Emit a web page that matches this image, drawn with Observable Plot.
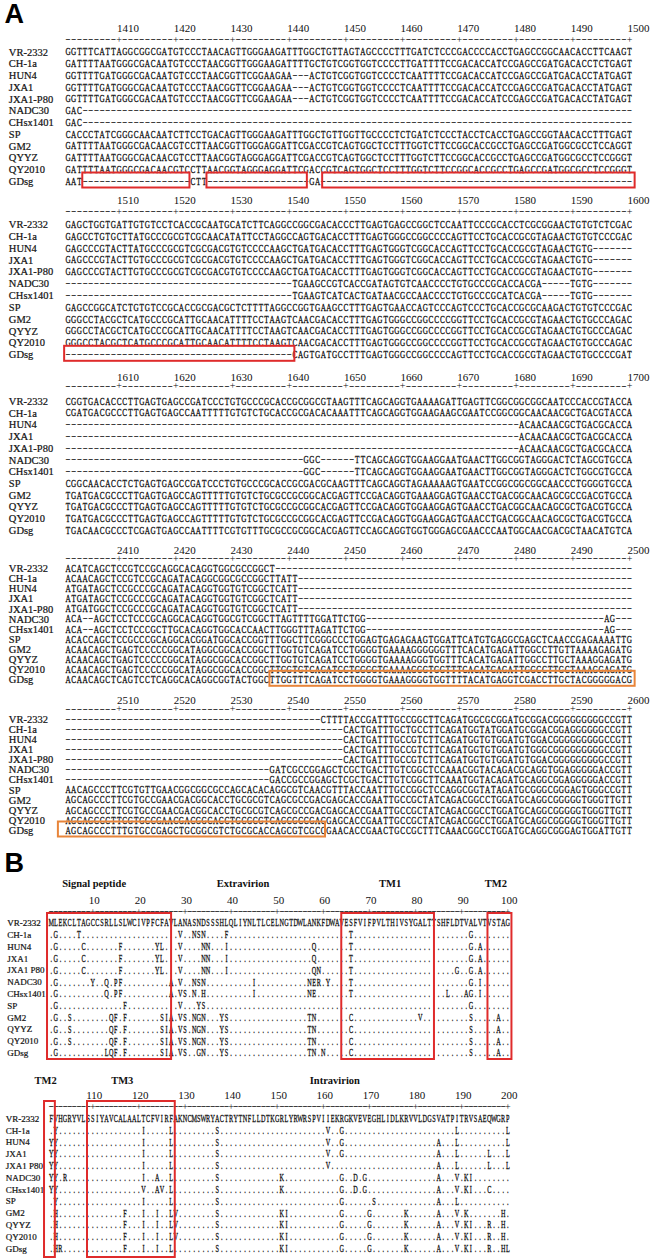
<!DOCTYPE html>
<html>
<head>
<meta charset="utf-8">
<script src="https://cdn.jsdelivr.net/npm/d3@7"></script>
<script src="https://cdn.jsdelivr.net/npm/@observablehq/plot@0.6"></script>
<style>
  html, body { margin: 0; padding: 0; background: #fff; }
  #fig { position: relative; width: 653px; height: 1259px; overflow: hidden; background: #fff; }
  #fig svg { position: absolute; left: 0; display: block; max-width: none; }
</style>
</head>
<body>
<div id="fig"></div>
<script>
// ---------------- DATA ----------------
const ntStrains = ["VR-2332","CH-1a","HUN4","JXA1","JXA1-P80","NADC30","CHsx1401","SP","GM2","QYYZ","QY2010","GDsg"];
const aaStrains = ["VR-2332","CH-1a","HUN4","JXA1","JXA1 P80","NADC30","CHsx1401","SP","GM2","QYYZ","QY2010","GDsg"];

// nucleotides 1401-1500 (groups of ten, spaces only for reading)
const nt1401 = [
"GGTTTCATTA GGCGGCGATG TCCCTAACAG TTGGGAAGAT TTGGCTGTTA GTAGCCCCTT TGATCTCCCG ACCCCACCTG AGCCGGCAAC ACCTTCAAGT",
"GATTTTAATG GGCGACAATG TCCCTAACGG TTGGGAAGAT TTTGCTGTCG GTGGTCCCCT TGATTTTCCG ACACCATCCG AGCCGATGAC ACCTCTGAGT",
"GGTTTTGATG GGCGACAATG TCCCTAACGG TTCGGAAGAA ---ACTGTCG GTGGTCCCCT CAATTTTCCG ACACCATCCG AGCCGATGAC ACCTATGAGT",
"GGTTTTGATG GGCGACAATG TCCCTAACGG TTCGGAAGAA ---ACTGTCG GTGGTCCCCT CAATTTTCCG ACACCATCCG AGCCGATGAC ACCTATGAGT",
"GGTTTTGATG GGCGACAATG TCCCTAACGG TTCGGAAGAA ---ACTGTCG GTGGTCCCCT CAATTTTCCG ACACCATCCG AGCCGATGAC ACCTATGAGT",
"GAC------- ---------- ---------- ---------- ---------- ---------- ---------- ---------- ---------- ----------",
"GAC------- ---------- ---------- ---------- ---------- ---------- ---------- ---------- ---------- ----------",
"CACCCTATCG GGCAACAATC TTCCTGACAG TTGGGAAGAT TTGGCTGTTG GTTGCCCCTC TGATCTCCCT ACCTCACCTG AGCCGGTAAC ACCTTTGAGT",
"GATTTTAATG GGCGACAACG TCCTTAACGG TTGGGAGGAT TCGACCGTCA GTGGCTCCTT TGGTCTTCCG GCACCGCCTG AGCCGATGGC GCCTCCAGGT",
"GATTTTAATG GGCGACAACG TCCTTAACGG TAGGGAGGAT TCGACCGTCA GTGGCTCCTT TGGTCTTCCG GCACCGCCTG AGCCGATGGC GCCTCCGGGT",
"GATTTTAATG GGCGACAACG TCCTTAACGG TAGGGAGGAT TCGACCGTCA GTGGCTCCTT TGGTCTTCCG GCACCGCCTG AGCCGATGGC GCCTCCGGGT",
"AAT------- ---------- --CTT----- ---------- ---GA----- ---------- ---------- ---------- ---------- ----------"
];
// nucleotides 1501-1600
const nt1501 = [
"GAGCTGGTGA TTGTGTCCTC ACCGCAATGC ATCTTCAGGC CGGCGACACC CTTGAGTGAG CCGGCTCCAA TTCCCGCACC TCGCGGAACT GTGTCTCGAC",
"GAGCCTGTGC TTATGCCCGC GTCGCAACAT ATTCCTAGGC CAGTGACACC TTTGAGTGGG CCGGCCCCAG TTCCTGCACC GCGTAGAACT GTGTCCCGAC",
"GAGCCCGTAC TTATGCCCGC GTCGCGACGT GTCCCCAAGC TGATGACACC TTTGAGTGGG TCGGCACCAG TTCCTGCACC GCGTAGAACT GTG-------",
"GAGCCCGTAC TTGTGCCCGC GTCGCGACGT GTCCCCAAGC TGATGACACC TTTGAGTGGG TCGGCACCAG TTCCTGCACC GCGTAGAACT GTG-------",
"GAGCCCGTAC TTGTGCCCGC GTCGCGACGT GTCCCCAAGC TGATGACACC TTTGAGTGGG TCGGCACCAG TTCCTGCACC GCGTAGAACT GTG-------",
"---------- ---------- ---------- ---------- TGAAGCCGTC ACCGATAGTG TCAACCCCTG TGCCCGCACC ACGA-----T GTG-------",
"---------- ---------- ---------- ---------- TGAAGTCATC ACTGATAACG CCAACCCCTG TGCCCGCATC ACGA-----T GTG-------",
"GAGCCGGCAT CTGTGTCCGC ACCGCGACGC TCTTTTAGGC CGGTGAAGCC TTTGAGTGAA CCAGTCCCAG TCCCTGCACC GCGCAAGACT GTGTCCCGAC",
"GGGCCTACGC TCATGCCCGC ATTGCAACAT TTTCCTAAGT CAACGACACC TTTGAGTGGG CCGGCCCCGG TTCCTGCACC GCGTAGAACT GTGCCCAGAC",
"GGGCCTACGC TCATGCCCGC ATTGCAACAT TTTCCTAAGT CAACGACACC TTTGAGTGGG CCGGCCCCGG TTCCTGCACC GCGTAGAACT GTGCCCAGAC",
"GGGCCTACGC TCATGCCCGC ATTGCAACAT TTTCCTAAGT CAACGACACC TTTGAGTGGG CCGGCCCCGG TTCCTGCACC GCGTAGAACT GTGCCCAGAC",
"---------- ---------- ---------- ---------- CAGTGATGCC TTTGAGTGGG CCGGCCCCAG TTCCTGCACC GCGTAGAACT GTGCCCCGAT"
];
// nucleotides 1601-1700
const nt1601 = [
"CGGTGACACC CTTGAGTGAG CCGATCCCTG TGCCCGCACC GCGGCGTAAG TTTCAGCAGG TGAAAAGATT GAGTTCGGCG GCGGCAATCC CACCGTACCA",
"CGATGACGCC CTTGAGTGAG CCAATTTTTG TGTCTGCACC GCGACACAAA TTTCAGCAGG TGGAAGAAGC GAATCCGGCG GCAACAACGC TGACGTACCA",
"---------- ---------- ---------- ---------- ---------- ---------- ---------- ---------- ACAACAACGC TGACGCACCA",
"---------- ---------- ---------- ---------- ---------- ---------- ---------- ---------- ACAACAACGC TGACGCACCA",
"---------- ---------- ---------- ---------- ---------- ---------- ---------- ---------- ACAACAACGC TGACGCACCA",
"---------- ---------- ---------- ---------- --GGC----- -TTCAGCAGG TGGAAGGAAT GAACTTGGCG GTAGGGACTC TAGCGTGCCA",
"---------- ---------- ---------- ---------- --GGC----- -TTCAGCAGG TGGAAGGAAT GAACTTGGCG GTAGGGACTC TGGCGTGCCA",
"CGGCAACACC TCTGAGTGAG CCGATCCCTG TGCCCGCACC GCGACGCAAG TTTCAGCAGG TAGAAAAAGT GAATCCGGCG GCGGCAACCC TGGGGTGCCA",
"TGATGACGCC CTTGAGTGAG CCAGTTTTTG TGTCTGCGCC GCGGCACGAG TTCCGACAGG TGAAAGGAGT GAACCTGACG GCAACAGCGC CGACGTGCCA",
"TGATGACGCC CTTGAGTGAG CCAGTTTTTG TGTCTGCGCC GCGGCACGAG TTCCGACAGG TGGAAGGAGT GAACCTGACG GCAACAGCGC TGACGTGCCA",
"TGATGACGCC CTTGAGTGAG CCAGTTTTTG TGTCTGCGCC GCGGCACGAG TTCCGACAGG TGGAAGGAGT GAACCTGACG GCAACAGCGC TGACGTGCCA",
"TGACAACGCC CTCGAGTGAG CCAATTTTCG TGTTTGCGCC GCGGCACGAG TTCCAGCAGG TGGTGGGAGC GAACCCAATG GCAACGACGC TAACATGTCA"
];
// nucleotides 2401-2500
const nt2401 = [
"ACATCAGCTC CGTCCGCAGG CACAGGTGGC GCCGGCT--- ---------- ---------- ---------- ---------- ---------- ----------",
"ACAACAGCTC CGTCCGCAGA TACAGGCGGC GCCGGCTTAT T--------- ---------- ---------- ---------- ---------- ----------",
"ATGATAGCTC CGCCCGCAGA TACAGGTGGT GTCGGCTCAT T--------- ---------- ---------- ---------- ---------- ----------",
"ATGATAGCTC CGCCCGCAGA TACAGGTGGT GTCGGCTCAT T--------- ---------- ---------- ---------- ---------- ----------",
"ATGATGGCTC CGCCCGCAGA TACAGGTGGT GTCGGCTCAT T--------- ---------- ---------- ---------- ---------- ----------",
"ACA--AGCTC CTCCCGCAGG CACAGGTGGC GTCGGCTTAG TTTTGGATTC TGG------- ---------- ---------- ---------- -----AG---",
"ACA--AGCTC CTCCCGCTTG CACAGGTGGC ACCAACTTGG GTTTAGATTC TGG------- ---------- ---------- ---------- -----AG---",
"ACACCAGCTC CGCCCGCAGG CACGGATGGC ACCGGTTTGG CTTCGGGCCC TGGAGTGAGA GAAGTGGATT CATGTGAGGC GAGCTCAACC GAGAAAATTG",
"ACAACAGCTG AGTCCCCCGG CATAGGCGGC ACCGGCTTGG TGTCAGATCC TGGGGTGAAA AGGGGGGTTT CACATGAGAT TGGCCTTGTT AAAAGAGATG",
"ACAACAGCTG AGTCCCCCGG CATAGGCGGC ACCGGCTTGG TGTCAGATCC TGGGGTGAAA AGGGTGGTTT CACATGAGAT TGGCCTTGCT AAAGGAGATG",
"ACAACAGCTG AGTCCCCCGG CATAGGCGGC ACCGGCTTGG TGTCAGATCC TGGGGTGAAA AGGGTGGTTT CACATGAGAT TGGCCTTGCT AAAGGAGATG",
"ACAACAGCTC AGTCCTCAGG CACAGGCGGT ACTGGCTTGG TTTCAGATCC TGGGGTGAAA GGGGTGGTTT TACATGAGGT CGACCTTGCT ACGGGGGACG"
];
// nucleotides 2501-2600
const nt2501 = [
"---------- ---------- ---------- ---------- -----CTTTT ACCGATTTGC CGGCTTCAGA TGGCGCGGAT GCGGACGGGG GGGGGCCGTT",
"---------- ---------- ---------- ---------- ---------C ACTGATTTGC TGCCTTCAGA TGGTATGGAT GCGGACGGAG GGGGGCCGTT",
"---------- ---------- ---------- ---------- ---------C ACTGATTTGC CGTCTTCAGA TGGTGTGGAT GTGGACGGGG GGGGGCCGTT",
"---------- ---------- ---------- ---------- ---------C ACTGATTTGC CGTCTTCAGA TGGTGTGGAT GTGGGCGGGG GGGGGCCGTT",
"---------- ---------- ---------- ---------- ---------C ACTGATTTGC CGTCTTCAGA TGGTGTGGAT GTGGACGGGG GGGGGCCGTT",
"---------- ---------- ---------- ------GATC GCCGGAGCTC GCTGACTTGT CGGCTCCAAA CGGTACAGAC GCAGGTGGAG GGGGACCGTT",
"---------- ---------- ---------- ------GACC GCCGGAGCTC GCTGACTTGT CGGCTTCAAA TGGTACAGAT GCAGGCGGAG GGGGACCGTT",
"AACAGCCCTT CGTGTTGAAC GGCGGCGCCA GCACACAGGC GTCAACGTTT ACCAATTTGC CGGCTCCAGG CGGTATAGAT GCGGGCGGGA GTGGGCCGTT",
"AGCAGCCCTT CGTGCCGAAC GACGGCACCT GCGCGTCAGC GCCGACGAGC ACCGAATTGC CGCTATCAGA CGGCCTGGAT GCAGGCGGGG GTGGGTTGTT",
"AGCAGCCCTT CGTGCCGAAC GACGGCACCT GCGCGTCAGC GCCGACGAGC ACCGAATTGC CGCTATCAGA CGGCCTGGAT GCAGGCGGGG GTGGGTTGTT",
"AGCAGCCCTT CGTGCCGAAC GACGGCACCT GCGCGTCAGC GCCGACGAGC ACCGAATTGC CGCTATCAGA CGGCCTGGAT GCAGGCGGGG GTGGGTTGTT",
"AGCAGCCCTT TGTGCCGAGC TGCGGCGTCT GCGCACCAGC GTCGCCGAAC ACCGAACTGC CGCTTTCAAA CGGCCTGGAT GCAGGCGGGA GTGGATTGTT"
];

// boxed stretches of GDsg (sequence units, edges)
const ntBoxes = [
  {block: 1400, strain: "GDsg", from: 3.6,  to: 22.5,  kind: "deletion"},
  {block: 1400, strain: "GDsg", from: 25.5, to: 43.2,  kind: "deletion"},
  {block: 1400, strain: "GDsg", from: 45.9, to: 101.0, kind: "deletion"},
  {block: 1500, strain: "GDsg", from: 0.4,  to: 41.0,  kind: "deletion"},
  {block: 2400, strain: "GDsg", from: 36.6, to: 101.0, kind: "recombinant"},
  {block: 2500, strain: "GDsg", from: -0.7, to: 46.4,  kind: "recombinant"}
];

// GP5 amino acids: VR-2332 reference (1-200) and substitutions in the others
const aaVR2332 = "MLEKCLTAGCCSRLLSLWCIVPFCFAVLANASNDSSSHLQLIYNLTLCELNGTDWLANKFDWAVESFVIFPVLTHIVSYGALTTSHFLDTVALVTVSTAG" +
                 "FVHGRYVLSSIYAVCALAALTCFVIRFAKNCMSWRYACTRYTNFLLDTKGRLYRWRSPVIIEKRGKVEVEGHLIDLKRVVLDGSVATPITRVSAEQWGRP";
const aaSubstitutions = [
  "",
  "2G 7T 29V 32N 33S 34N 39F 66T 92G 102Y 121I 127L 137S 161V 164G 189L 200L",
  "2G 8C 16F 24Y 25L 29V 34N 35N 39I 58Q 66T 92G 94A 101Y 102Y 121I 127L 137S 161V 164G 185A 189L 200L",
  "2G 8C 16F 24Y 25L 29V 34N 35N 39I 58Q 66T 92G 94A 101Y 102Y 121I 127L 137S 161V 164G 185A 189L 196L 200L",
  "2G 8C 16F 24Y 25L 29V 34N 35N 39I 58Q 59N 66T 89G 92G 94A 101Y 102Y 121I 127L 137S 161V 185A 189L 196L 200L",
  "2G 10Y 13Q 15P 16F 27A 29V 32N 33S 34N 45I 57N 58E 59R 61Y 66T 92G 94I 101Y 102Y 104R 121I 124A 127L 137S 151K 164G 167D 169G 185A 189V 191K 192I",
  "2G 13Q 15P 16F 27A 29V 30S 32N 34H 45I 57N 58E 66T 87L 91A 92G 94I 101Y 102Y 121V 124A 125V 127L 137S 151K 164G 167D 169G 185A 189V 191K 192I 196C",
  "2G 17F 29V 33Y 34S 92G 102Y 121I 127L 137S 164G 171S 185A 189L",
  "2G 5S 14Q 15F 17F 25S 26I 27A 29V 30S 32N 33G 34N 38Y 39S 57T 58N 66C 81V 92S 98A 102H 117F 121I 124I 127L 128V 137S 151K 152I 164G 170G 178K 185A 189V 191K 199H",
  "2G 5S 14Q 15F 17F 25S 26I 27A 29V 30S 32N 33G 34N 38Y 39S 57T 58N 66C 92S 98A 102H 117F 121I 124I 127L 128V 137S 151K 152I 164G 170G 178K 185A 189V 191K 192I 196R 199H",
  "2G 5S 14Q 15F 17F 25S 26I 27A 29V 30S 32N 33G 34N 38Y 39S 57T 58N 66C 92S 98A 102H 117F 121I 124I 127L 128V 137S 151K 152I 164G 170G 178K 185A 189V 191K 192I 196R 199H",
  "2G 13L 14Q 15F 17F 25S 26I 27A 29V 30S 33G 34N 38Y 39S 57T 58N 60N 66C 92S 98A 102H 103R 117F 121I 124I 127L 137S 151K 152I 164G 170G 178K 185A 189V 191K 192I 196R 199H 200L"
];
const gp5Regions1 = [
  {name: "Signal peptide", at: 10.3}, {name: "Extravirion", at: 42.6},
  {name: "TM1", at: 74.5}, {name: "TM2", at: 97.4}
];
const gp5Regions2 = [
  {name: "TM2", at: 99.8}, {name: "TM3", at: 116.4}, {name: "Intravirion", at: 162.5}
];
const gp5Boxes = [
  {block: 0, from: 0.2, to: 27.1}, {block: 0, from: 64.0, to: 84.1}, {block: 0, from: 95.7, to: 100.9},
  {block: 100, from: 99.55, to: 101.9}, {block: 100, from: 108.87, to: 127.9}
];

// ---------------- DRAWING ----------------
const SERIF = "'Liberation Serif', 'Times New Roman', serif";
const SANS = "'Liberation Sans', Arial, sans-serif";
const INK = "#111";
const RED = "#df2b2b";
const ORANGE = "#e8853a";

function squeeze(svg, size, sx) {
  svg.querySelectorAll("g").forEach(g => {
    const fs = g.getAttribute("font-size");
    if (!fs || Math.abs(parseFloat(fs) - size) > 1e-6) return;
    g.querySelectorAll("text").forEach(t => {
      let tr = t.getAttribute("transform") || "";
      const x = t.getAttribute("x");
      if (x !== null && !/em$/.test(x)) {
        const y = t.getAttribute("y");
        const yNum = y !== null && !/em$/.test(y);
        tr = `translate(${x},${yNum ? y : 0}) ` + tr;
        t.removeAttribute("x");
        if (yNum) t.removeAttribute("y");
      }
      t.setAttribute("transform", `${tr} scale(${sx},1)`);
    });
  });
}

function aaRows(lo) {
  return aaStrains.map((s, k) => {
    if (k === 0) return aaVR2332.slice(lo, lo + 100);
    const arr = aaVR2332.slice(lo, lo + 100).split("").map(() => ".");
    aaSubstitutions[k].split(" ").filter(Boolean).forEach(tok => {
      const p = +tok.slice(0, -1), a = tok.slice(-1);
      if (p > lo && p <= lo + 100) arr[p - lo - 1] = a;
    });
    return arr.join("");
  });
}

function drawBlock(o) {
  const step = (o.r1 - o.r0) / 11;
  const row = py => (py - o.r0) / step;
  const all = [];
  o.rows.forEach((s, r) => {
    const str = s.replace(/ /g, "");
    str.split("").forEach((c, i) => all.push({r, i: i + 1, c}));
  });
  const letters = all.filter(d => d.c !== "-");
  const gaps = all.filter(d => d.c === "-");
  const pos = d3.range(1, 101);
  const tens = pos.filter(i => i % 10 === 0);
  const minor = pos.filter(i => i % 10 !== 0);

  const marks = [
    Plot.text(o.labels, {frameAnchor: "left", y: (d, i) => i, text: d => d, textAnchor: "start",
      dx: o.labelX, fontFamily: SERIF, fontSize: o.labelSize, fill: INK, stroke: INK, strokeWidth: 0.2}),
    Plot.text(tens, {x: d => d, y: () => row(o.num), text: d => String(o.offset + d),
      textAnchor: o.numAnchor, dx: o.numDx, fontFamily: SERIF, fontSize: 11, fill: INK}),
    Plot.text(minor, {x: d => d, y: () => row(o.ruler), text: () => "-", dy: -1,
      fontFamily: SERIF, fontSize: 10.02, fill: INK}),
    Plot.text(tens, {x: d => d, y: () => row(o.ruler), text: () => "+", dy: -0.5,
      fontFamily: SERIF, fontSize: 10.03, fill: INK}),
    Plot.text(letters, {x: "i", y: "r", text: "c", fontFamily: SERIF, fontSize: 10.01, fill: INK,
      stroke: INK, strokeWidth: 0.3}),
    Plot.text(gaps, {x: "i", y: "r", text: "c", dy: -1, fontFamily: SERIF, fontSize: 10.02, fill: INK})
  ];
  for (const [kind, color] of [["deletion", RED], ["recombinant", ORANGE], ["region", RED]]) {
    const bx = o.boxes.filter(b => b.kind === kind);
    if (bx.length) marks.push(Plot.rect(bx, {
      x1: d => d.from, x2: d => d.to, y1: d => d.y1, y2: d => d.y2,
      fill: "none", stroke: color, strokeWidth: 2,
      insetTop: o.boxTop, insetBottom: o.boxBottom
    }));
  }
  if (o.heads) marks.push(Plot.text(o.heads, {x: d => d.at - o.offset, y: () => row(o.headY),
    text: d => d.name, fontFamily: SERIF, fontWeight: "bold", fontSize: 10.5, fill: INK}));
  if (o.letter) marks.push(Plot.text([o.letter], {frameAnchor: "top-left", text: d => d,
    textAnchor: "start", lineAnchor: "top", dx: 4, dy: o.letterDy,
    fontFamily: SANS, fontWeight: "bold", fontSize: 27, fill: "#000"}));

  const svg = Plot.plot({
    width: 653, height: o.h, margin: 0,
    x: {type: "linear", domain: [0.5, 100.5], range: o.xr, axis: null},
    y: {type: "linear", domain: [0, 11], range: [o.r0 - o.top, o.r1 - o.top], axis: null},
    style: {background: "transparent", overflow: "visible"},
    marks
  });
  squeeze(svg, 10.01, o.seqScale);
  squeeze(svg, 10.02, 1.6);
  svg.style.top = o.top + "px";
  document.getElementById("fig").appendChild(svg);
}

const blocksA = [
  {rows: nt1401, offset: 1400, top: 0,   h: 192, num: 27.5,  ruler: 39.5,  r0: 51.7,  r1: 181.0, letter: "A", letterDy: 3.5},
  {rows: nt1501, offset: 1500, top: 192, h: 170, num: 200,   ruler: 211.7, r0: 224.3, r1: 354.3},
  {rows: nt1601, offset: 1600, top: 362, h: 176, num: 376.7, ruler: 386,   r0: 401,   r1: 530},
  {rows: nt2401, offset: 2400, top: 538, h: 152, num: 549.5, ruler: 558.3, r0: 568.3, r1: 679.3},
  {rows: nt2501, offset: 2500, top: 690, h: 155, num: 700,   ruler: 709,   r0: 719,   r1: 830}
];
blocksA.forEach(b => drawBlock(Object.assign({}, b, {
  labels: ntStrains, labelX: 8.3, labelSize: 10.5, xr: [64.7, 631.8], seqScale: 0.72,
  numAnchor: "start", numDx: -2, boxTop: -8.5, boxBottom: -6.5,
  boxes: ntBoxes.filter(x => x.block === b.offset).map(x => Object.assign({}, x,
    {y1: ntStrains.indexOf(x.strain), y2: ntStrains.indexOf(x.strain)}))
})));

const blocksB = [
  {rows: aaRows(0), offset: 0, top: 845, h: 217, headY: 883, num: 900, ruler: 911.7, r0: 922.7, r1: 1052.7,
   heads: gp5Regions1, letter: "B", letterDy: 7.5, labelX: 6.7, boxTop: -9.7, boxBottom: -6.3},
  {rows: aaRows(100), offset: 100, top: 1062, h: 197, headY: 1080, num: 1095, ruler: 1106.7, r0: 1118.3, r1: 1248.3,
   heads: gp5Regions2, labelX: 5.2, boxTop: -17.3, boxBottom: -8.7}
];
blocksB.forEach(b => drawBlock(Object.assign({}, b, {
  labels: aaStrains, labelSize: 9, xr: [48.4, 509.6], seqScale: 0.62,
  numAnchor: "middle", numDx: 1.5,
  boxes: gp5Boxes.filter(x => x.block === b.offset)
    .map(x => ({from: x.from - b.offset, to: x.to - b.offset, y1: 0, y2: 11, kind: "region"}))
})));
</script>
</body>
</html>
